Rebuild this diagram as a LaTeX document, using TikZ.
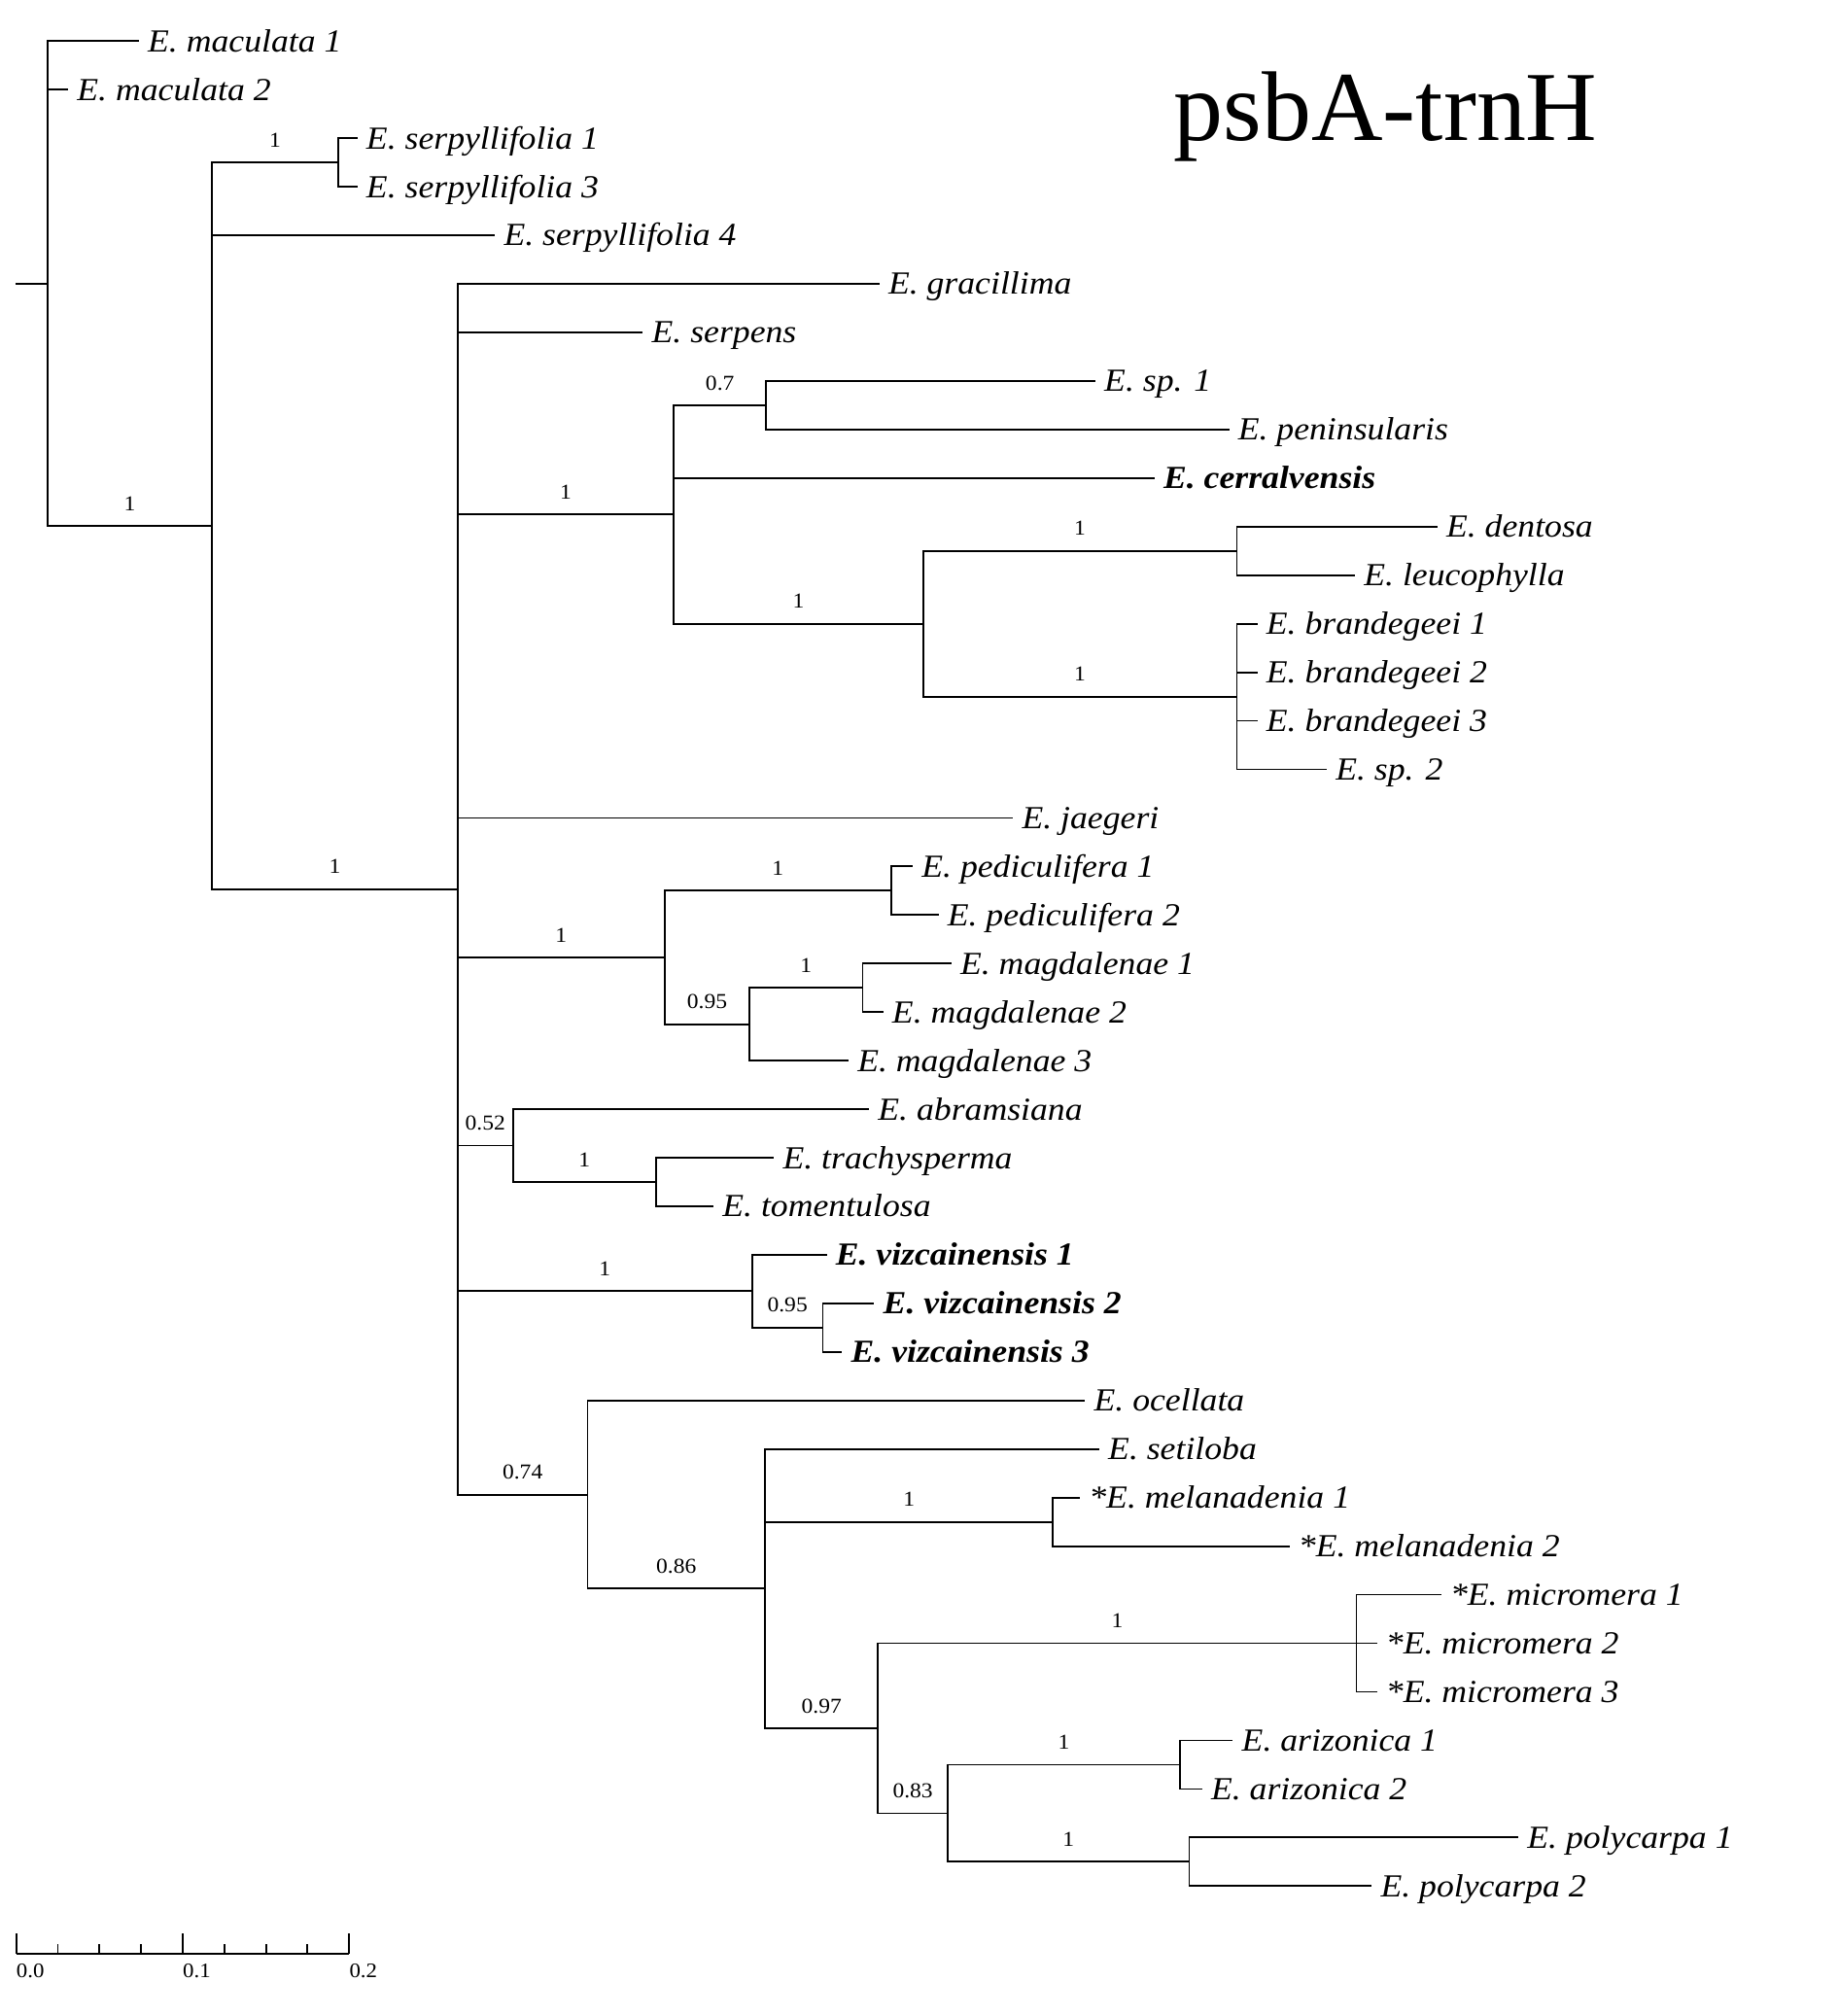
\documentclass[tikz,border=0pt]{standalone}
\usepackage{fontspec}
\setmainfont{Liberation Serif}
\newfontfamily\labfont[FakeStretch=1.08]{Liberation Serif}
\newcommand\tipfont{\labfont\fontsize{25}{30}\selectfont\itshape}
\newcommand\supfont{\labfont\fontsize{16.5}{19}\selectfont}
\begin{document}
\begin{tikzpicture}[x=1pt,y=-1pt,
  branch/.style={line width=1.4pt},
  tip/.style={anchor=west, inner xsep=7pt, inner ysep=0pt, outer sep=0pt, text height=19pt, text depth=2.5pt, font=\tipfont},
  tipb/.style={tip, font=\tipfont\bfseries},
  sup/.style={pos=0.75, anchor=base, inner sep=0pt, yshift=12pt, font=\supfont},
  scl/.style={anchor=base west, inner sep=0pt, font=\labfont\fontsize{16}{18}\selectfont}]
\useasboundingbox (0,0) rectangle (1430,1568);

% title
\node[anchor=base west, inner sep=0pt, font=\fontsize{77}{80}\selectfont] (title) at (913,109.6) {psbA-trnH};

% tips
\node[tip] (mac1) at (108,32.0) {E. maculata 1};
\node[tip] (mac2) at (53,69.8) {E. maculata 2};
\node[tip] (serp1) at (278,107.5) {E. serpyllifolia 1};
\node[tip] (serp3) at (278,145.3) {E. serpyllifolia 3};
\node[tip] (serp4) at (385,183.0) {E. serpyllifolia 4};
\node[tip] (grac) at (684,220.8) {E. gracillima};
\node[tip] (serpens) at (500,258.6) {E. serpens};
\node[tip] (sp1) at (852,296.3) {E. sp. 1};
\node[tip] (pen) at (956,334.1) {E. peninsularis};
\node[tipb] (cerr) at (898,371.8) {E. cerralvensis};
\node[tip] (dent) at (1118,409.6) {E. dentosa};
\node[tip] (leuc) at (1054,447.4) {E. leucophylla};
\node[tip] (b1) at (978,485.1) {E. brandegeei 1};
\node[tip] (b2) at (978,522.9) {E. brandegeei 2};
\node[tip] (b3) at (978,560.6) {E. brandegeei 3};
\node[tip] (sp2) at (1032,598.4) {E. sp. 2};
\node[tip] (jaeg) at (788,636.2) {E. jaegeri};
\node[tip] (ped1) at (710,673.9) {E. pediculifera 1};
\node[tip] (ped2) at (730,711.7) {E. pediculifera 2};
\node[tip] (mag1) at (740,749.4) {E. magdalenae 1};
\node[tip] (mag2) at (687,787.2) {E. magdalenae 2};
\node[tip] (mag3) at (660,825.0) {E. magdalenae 3};
\node[tip] (abram) at (676,862.7) {E. abramsiana};
\node[tip] (trach) at (602,900.5) {E. trachysperma};
\node[tip] (tom) at (555,938.2) {E. tomentulosa};
\node[tipb] (v1) at (643,976.0) {E. vizcainensis 1};
\node[tipb] (v2) at (680,1013.8) {E. vizcainensis 2};
\node[tipb] (v3) at (655,1051.5) {E. vizcainensis 3};
\node[tip] (ocel) at (844,1089.3) {E. ocellata};
\node[tip] (setil) at (855,1127.0) {E. setiloba};
\node[tip] (mel1) at (840,1164.8) {*E. melanadenia 1};
\node[tip] (mel2) at (1003,1202.6) {*E. melanadenia 2};
\node[tip] (mic1) at (1121,1240.3) {*E. micromera 1};
\node[tip] (mic2) at (1071,1278.1) {*E. micromera 2};
\node[tip] (mic3) at (1071,1315.8) {*E. micromera 3};
\node[tip] (ari1) at (959,1353.6) {E. arizonica 1};
\node[tip] (ari2) at (935,1391.4) {E. arizonica 2};
\node[tip] (pol1) at (1181,1429.1) {E. polycarpa 1};
\node[tip] (pol2) at (1067,1466.9) {E. polycarpa 2};

% internal nodes
\coordinate (stub) at (12,220.5);
\coordinate (root) at (37,220.5);
\coordinate (A) at (165,409.0);
\coordinate (serp) at (263,126.4);
\coordinate (big) at (356,691.6);
\coordinate (cer) at (524,400.2);
\coordinate (sp) at (596,315.2);
\coordinate (db) at (718,485.1);
\coordinate (dl) at (962,428.5);
\coordinate (br) at (962,541.8);
\coordinate (pm) at (517,744.7);
\coordinate (ped) at (693,692.8);
\coordinate (mag) at (583,796.6);
\coordinate (m12) at (671,768.3);
\coordinate (abr) at (399,891.0);
\coordinate (tt) at (510,919.4);
\coordinate (viz) at (585,1004.3);
\coordinate (v23) at (640,1032.6);
\coordinate (n74) at (457,1162.5);
\coordinate (n86) at (595,1235.6);
\coordinate (mel) at (819,1183.7);
\coordinate (n97) at (683,1344.2);
\coordinate (mic) at (1055,1278.1);
\coordinate (n83) at (737,1410.3);
\coordinate (ari) at (918,1372.5);
\coordinate (pol) at (925,1448.0);

% branches
\begin{scope}[branch]
\draw (stub) -- (root);
\draw (root) |- (mac1.west);
\draw (root) |- (mac2.west);
\draw (root) |- node[sup] {1} (A);
\draw (A) |- node[sup] {1} (serp);
\draw (A) |- (serp4.west);
\draw (A) |- node[sup] {1} (big);
\draw (serp) |- (serp1.west);
\draw (serp) |- (serp3.west);
\draw (big) |- (grac.west);
\draw (big) |- (serpens.west);
\draw (big) |- node[sup] {1} (cer);
\draw (big) |- (jaeg.west);
\draw (big) |- node[sup] {1} (pm);
\draw (big) |- node[sup] {0.52} (abr);
\draw (big) |- node[sup] {1} (viz);
\draw (big) |- node[sup] {0.74} (n74);
\draw (cer) |- node[sup] {0.7} (sp);
\draw (cer) |- (cerr.west);
\draw (cer) |- node[sup] {1} (db);
\draw (sp) |- (sp1.west);
\draw (sp) |- (pen.west);
\draw (db) |- node[sup] {1} (dl);
\draw (db) |- node[sup] {1} (br);
\draw (dl) |- (dent.west);
\draw (dl) |- (leuc.west);
\draw (br) |- (b1.west);
\draw (br) |- (b2.west);
\draw (br) |- (b3.west);
\draw (br) |- (sp2.west);
\draw (pm) |- node[sup] {1} (ped);
\draw (pm) |- node[sup] {0.95} (mag);
\draw (ped) |- (ped1.west);
\draw (ped) |- (ped2.west);
\draw (mag) |- node[sup] {1} (m12);
\draw (mag) |- (mag3.west);
\draw (m12) |- (mag1.west);
\draw (m12) |- (mag2.west);
\draw (abr) |- (abram.west);
\draw (abr) |- node[sup] {1} (tt);
\draw (tt) |- (trach.west);
\draw (tt) |- (tom.west);
\draw (viz) |- (v1.west);
\draw (viz) |- node[sup] {0.95} (v23);
\draw (v23) |- (v2.west);
\draw (v23) |- (v3.west);
\draw (n74) |- (ocel.west);
\draw (n74) |- node[sup] {0.86} (n86);
\draw (n86) |- (setil.west);
\draw (n86) |- node[sup] {1} (mel);
\draw (n86) |- node[sup] {0.97} (n97);
\draw (mel) |- (mel1.west);
\draw (mel) |- (mel2.west);
\draw (n97) |- node[sup] {1} (mic);
\draw (n97) |- node[sup] {0.83} (n83);
\draw (mic) |- (mic1.west);
\draw (mic) |- (mic2.west);
\draw (mic) |- (mic3.west);
\draw (n83) |- node[sup] {1} (ari);
\draw (n83) |- node[sup] {1} (pol);
\draw (ari) |- (ari1.west);
\draw (ari) |- (ari2.west);
\draw (pol) |- (pol1.west);
\draw (pol) |- (pol2.west);

% scale bar
\draw (12.6,1519.7) -- (271.6,1519.7);
\foreach \x in {12.6,142.1,271.6} \draw (\x,1519.7) -- (\x,1503.8);
\foreach \x in {45.0,77.4,109.8,174.5,206.9,239.2} \draw (\x,1519.7) -- (\x,1512.1);
\end{scope}
\node[scl] (s0) at (12.6,1537.8) {0.0};
\node[scl] (s1) at (142.1,1537.8) {0.1};
\node[scl] (s2) at (271.6,1537.8) {0.2};
\end{tikzpicture}
\end{document}
